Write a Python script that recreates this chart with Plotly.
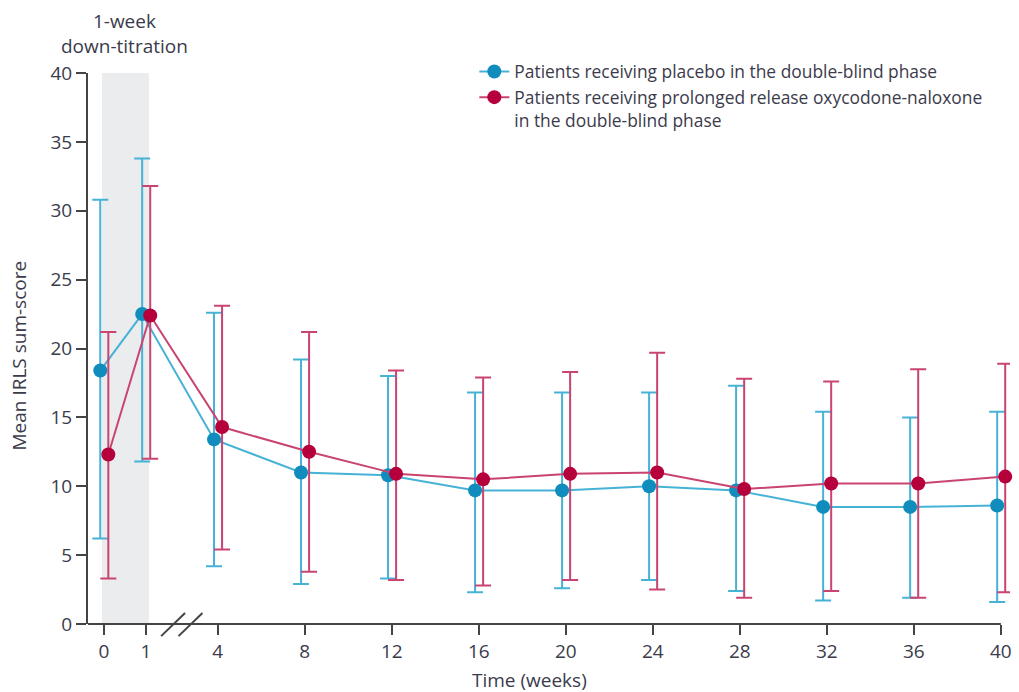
import plotly.graph_objects as go

# ---------------- data ----------------
weeks = [0, 1, 4, 8, 12, 16, 20, 24, 28, 32, 36, 40]
tick_labels = [str(w) for w in weeks]

placebo_mean = [18.4, 22.5, 13.4, 11.0, 10.8, 9.7, 9.7, 10.0, 9.7, 8.5, 8.5, 8.6]
placebo_upper = [30.8, 33.8, 22.6, 19.2, 18.0, 16.8, 16.8, 16.8, 17.3, 15.4, 15.0, 15.4]
placebo_lower = [6.2, 11.8, 4.2, 2.9, 3.3, 2.3, 2.6, 3.2, 2.4, 1.7, 1.9, 1.6]

oxn_mean = [12.3, 22.4, 14.3, 12.5, 10.9, 10.5, 10.9, 11.0, 9.8, 10.2, 10.2, 10.7]
oxn_upper = [21.2, 31.8, 23.1, 21.2, 18.4, 17.9, 18.3, 19.7, 17.8, 17.6, 18.5, 18.9]
oxn_lower = [3.3, 12.0, 5.4, 3.8, 3.2, 2.8, 3.2, 2.5, 1.9, 2.4, 1.9, 2.3]

y_ticks = [0, 5, 10, 15, 20, 25, 30, 35, 40]

series_names = ["Patients receiving placebo in the double-blind phase",
                "Patients receiving prolonged release oxycodone-naloxone<br>in the double-blind phase"]

# ---------------- broken-axis mapping ----------------
EARLY_ORIGIN = -1.229   # axis position of week 0
EARLY_STEP = 1.926      # axis units per week in the down-titration part


def pos(w):
    return EARLY_ORIGIN + EARLY_STEP * w if w <= 1 else float(w)


X_MIN, X_MAX = -1.963, 40.42
DODGE = {"placebo": -0.17, "oxn": 0.2}

BLUE_M, BLUE_L = "#118dbd", "#46b2d6"
RED_M, RED_L = "#b5003b", "#c94470"
FONT = "'Open Sans', 'Noto Sans', Lato, Arial, sans-serif"
TXT = "#3b3b4b"
AX = "#444444"

fig = go.Figure()


def add_series(name, mean, up, lo, key, mc, lc):
    xs = [pos(w) + DODGE[key] for w in weeks]
    fig.add_trace(go.Scatter(
        x=xs, y=mean, name=name, mode="lines+markers",
        line=dict(color=lc, width=2),
        marker=dict(color=mc, size=14),
        error_y=dict(type="data", symmetric=False,
                     array=[u - m for u, m in zip(up, mean)],
                     arrayminus=[m - l for m, l in zip(mean, lo)],
                     color=lc, thickness=2, width=8),
        cliponaxis=False,
    ))


add_series(series_names[0], placebo_mean, placebo_upper, placebo_lower, "placebo", BLUE_M, BLUE_L)
add_series(series_names[1], oxn_mean, oxn_upper, oxn_lower, "oxn", RED_M, RED_L)


def px(p):
    return (p - X_MIN) / (X_MAX - X_MIN)


# shaded down-titration band
fig.add_shape(type="rect", xref="x", yref="y", x0=pos(0) - 0.09, x1=pos(1) + 0.14,
              y0=0, y1=40, fillcolor="#ebecee", line=dict(width=0), layer="below")

# x axis line
fig.add_shape(type="line", xref="paper", yref="paper", x0=0, x1=px(40), y0=0, y1=0,
              line=dict(color=AX, width=2))

# axis break marks
mid = (pos(1) + pos(4)) / 2
for off in (-0.4, 0.4):
    fig.add_shape(type="line", xref="paper", yref="paper",
                  x0=px(mid + off - 0.55), x1=px(mid + off + 0.55),
                  y0=-0.022, y1=0.02, line=dict(color=AX, width=2))

fig.update_layout(
    width=1019, height=692,
    margin=dict(l=88, r=7, t=73, b=68),
    plot_bgcolor="white", paper_bgcolor="white",
    font=dict(family=FONT, size=19, color=TXT),
    showlegend=True,
    legend=dict(x=0.419, y=1.035, xanchor="left", yanchor="top", valign="top",
                bgcolor="rgba(0,0,0,0)", font=dict(size=17.4, color=TXT)),
    xaxis=dict(range=[X_MIN, X_MAX], tickmode="array",
               tickvals=[pos(w) for w in weeks], ticktext=tick_labels,
               showgrid=False, zeroline=False, showline=False,
               ticks="outside", ticklen=10, tickwidth=2, tickcolor=AX,
               tickfont=dict(size=19, color=TXT)),
    yaxis=dict(range=[0, 40], tickvals=y_ticks, showgrid=False, zeroline=False,
               showline=True, linecolor=AX, linewidth=2,
               ticks="outside", ticklen=10, tickwidth=2, tickcolor=AX,
               tickfont=dict(size=19, color=TXT)),
    annotations=[
        dict(text="1-week<br>down-titration", xref="x", yref="paper",
             x=(pos(0) + pos(1)) / 2, y=1.0, yshift=12, xanchor="center", yanchor="bottom",
             showarrow=False, font=dict(size=19, color=TXT)),
        dict(text="Time (weeks)", xref="paper", yref="paper",
             x=(530 - 88) / 924, y=0, yshift=-56, xanchor="center", yanchor="middle",
             showarrow=False, font=dict(size=19, color=TXT)),
        dict(text="Mean IRLS sum-score", xref="paper", yref="paper",
             x=0, xshift=-70, y=0.5, yshift=-7, xanchor="center", yanchor="middle",
             textangle=-90, showarrow=False, font=dict(size=19, color=TXT)),
    ],
)

fig.write_html("out.html", config={"displayModeBar": False},
               post_script="document.body.style.margin='0px';document.body.style.overflow='hidden';")
